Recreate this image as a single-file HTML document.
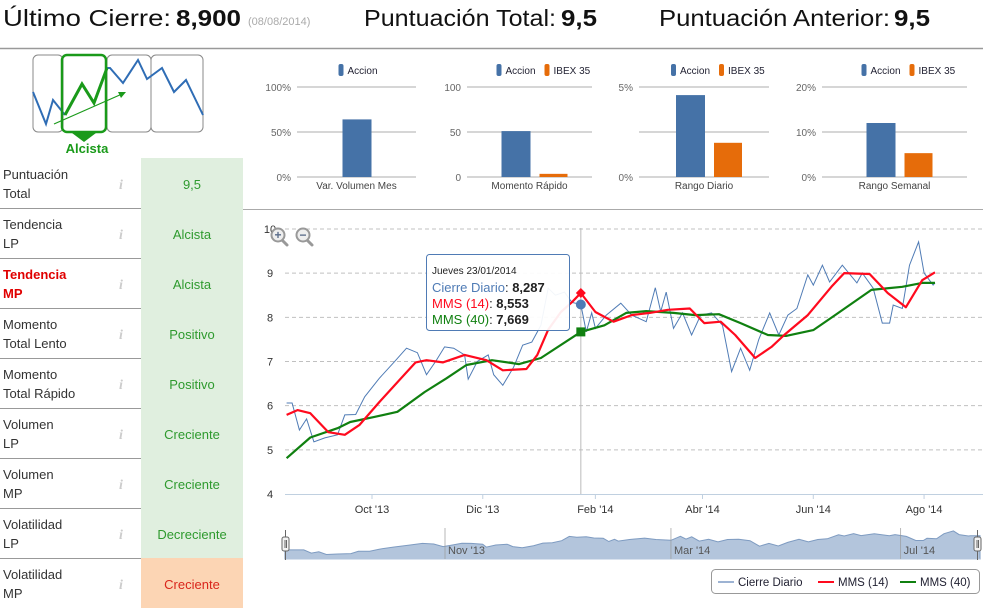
<!DOCTYPE html>
<html><head><meta charset="utf-8"><style>
html,body{margin:0;padding:0;background:#fff;}
svg{display:block;font-family:"Liberation Sans","DejaVu Sans",sans-serif;}
</style></head><body>
<svg id="s" width="983" height="608" viewBox="0 0 983 608" xmlns="http://www.w3.org/2000/svg">
<rect x="0" y="0" width="983" height="608" fill="#fff"/>
<g font-size="23" fill="#111">
<text x="3" y="26" textLength="168" lengthAdjust="spacingAndGlyphs">Último Cierre:</text>
<text x="176" y="26" font-weight="bold" textLength="65" lengthAdjust="spacingAndGlyphs">8,900</text>
<text x="248" y="25" font-size="11" fill="#aaa">(08/08/2014)</text>
<text x="364" y="26" textLength="192" lengthAdjust="spacingAndGlyphs">Puntuación Total:</text>
<text x="561" y="26" font-weight="bold" textLength="36" lengthAdjust="spacingAndGlyphs">9,5</text>
<text x="659" y="26" textLength="231" lengthAdjust="spacingAndGlyphs">Puntuación Anterior:</text>
<text x="894" y="26" font-weight="bold" textLength="36" lengthAdjust="spacingAndGlyphs">9,5</text>
</g>
<line x1="0" y1="48.5" x2="983" y2="48.5" stroke="#999" stroke-width="1.5"/>
<line x1="243" y1="209.5" x2="983" y2="209.5" stroke="#aaa" stroke-width="1"/>

<g>
<rect x="33" y="55" width="30" height="77" rx="5" fill="#fff" stroke="#888"/>
<rect x="107" y="55" width="44" height="77" rx="5" fill="#fff" stroke="#888"/>
<rect x="151" y="55" width="52" height="77" rx="5" fill="#fff" stroke="#888"/>
<polyline points="33,92 46,124 53,100 65,115" fill="none" stroke="#2f6db5" stroke-width="2"/>
<polyline points="107,68 110,68 123,83 138,60 147,79 162,68 174,92 186,80 203,115" fill="none" stroke="#2f6db5" stroke-width="2"/>
<rect x="62" y="55" width="44" height="77" rx="5" fill="none" stroke="#1a9a1a" stroke-width="2.5"/>
<polyline points="65,115 82,84 94,103 107,68" fill="none" stroke="#1a9a1a" stroke-width="3"/>
<path d="M72,133 L96,133 L84,142 Z" fill="#1a9a1a"/>
<line x1="54" y1="124" x2="122" y2="94" stroke="#1a9a1a" stroke-width="1.2"/>
<path d="M126,92 L118,92 L121,98 Z" fill="#1a9a1a"/>
<text x="87" y="153" text-anchor="middle" font-size="13" font-weight="bold" fill="#1a9a1a">Alcista</text>
</g>
<g id="table"></g>
<g id="mini"></g>
<g id="main"></g>
</svg>
<script>
const NS="http://www.w3.org/2000/svg";
function mk(p,t,a,txt){const e=document.createElementNS(NS,t);for(const k in a)e.setAttribute(k,a[k]);if(txt!==undefined)e.textContent=txt;p.appendChild(e);return e;}

// ---- table ----
const rowLabels1=["Puntuación","Tendencia","Tendencia","Momento","Momento","Volumen","Volumen","Volatilidad","Volatilidad"];
const rowLabels2=["Total","LP","MP","Total Lento","Total Rápido","LP","MP","LP","MP"];
const rowValues=["9,5","Alcista","Alcista","Positivo","Positivo","Creciente","Creciente","Decreciente","Creciente"];
const tb=document.getElementById('table');
rowLabels1.forEach((l,i)=>{
  const y=158+i*50;
  const last=i===8;
  const g=mk(tb,'g',{});
  
  
  mk(g,'rect',{x:141,y:y,width:102,height:50,fill:last?'#fcd5b4':'#e0efdf'});
  const red=i===2;
  const t1=mk(g,'text',{x:3,y:y+21,'font-size':13,fill:red?'#e00000':'#333','font-weight':red?'bold':'normal'},l);
  const t2=mk(g,'text',{x:3,y:y+40,'font-size':13,fill:red?'#e00000':'#333','font-weight':red?'bold':'normal'},rowLabels2[i]);
  const ic=mk(g,'text',{x:119,y:y+31,'font-size':14,'font-style':'italic','font-weight':'bold',fill:'#ccc','font-family':'Liberation Serif,serif'},'i');
  
  
  const v=mk(g,'text',{x:192,y:y+31,'font-size':13,'text-anchor':'middle',fill:last?'#d9261c':'#2e9a2e'},rowValues[i]);
  
  
  if(i<8) mk(g,'line',{x1:0,y1:y+50.5,x2:243,y2:y+50.5,stroke:'#999','stroke-width':1});
});

// ---- mini bar charts ----
const miniTitles=["Var. Volumen Mes","Momento Rápido","Rango Diario","Rango Semanal"];
const miniMax=[100,100,5,20];
const miniTicks=[["0%","50%","100%"],["0","50","100"],["0%","","5%"],["0%","10%","20%"]];
const miniAccion=[64,51,4.55,12];
const miniIbex=[null,3.5,1.9,5.3];
const miniGrid=[[297,416],[467,592],[639,769],[822,967]];
const mg=document.getElementById('mini');
miniTitles.forEach((t,i)=>{
  const g=mk(mg,'g',{});
  
  
  const [x0,x1]=miniGrid[i];
  const ys=v=>177-v/miniMax[i]*90;
  [0,0.5,1].forEach((f,k)=>{
    const y=177-f*90;
    mk(g,'line',{x1:x0,y1:y,x2:x1,y2:y,stroke:'#c8c8c8','stroke-width':1.5});
    if(miniTicks[i][k]) mk(g,'text',{x:x0-6,y:y+4,'font-size':10,'text-anchor':'end',fill:'#666'},miniTicks[i][k]);
  });
  const cx=(x0+x1)/2;
  const has2=miniIbex[i]!==null;
  const bx=has2?cx-28:cx-14;
  const b=mk(g,'rect',{x:bx,y:ys(miniAccion[i]),width:29,height:177-ys(miniAccion[i]),fill:'#4572a7'});
  
  
  if(has2){const o=mk(g,'rect',{x:cx+10,y:ys(miniIbex[i]),width:28,height:177-ys(miniIbex[i]),fill:'#e66c0a'});
    
    }
  mk(g,'text',{x:cx,y:189,'font-size':10,'text-anchor':'middle',fill:'#444'},t);
  const lx=has2?cx-33:cx-18;
  const lg=mk(g,'g',{});
  
  
  mk(lg,'rect',{x:lx,y:64,width:5,height:12,rx:2,fill:'#4572a7'});
  mk(lg,'text',{x:lx+9,y:74,'font-size':10,fill:'#223'},'Accion');
  if(has2){mk(lg,'rect',{x:lx+48,y:64,width:5,height:12,rx:2,fill:'#e66c0a'});
    mk(lg,'text',{x:lx+57,y:74,'font-size':10,fill:'#223'},'IBEX 35');}
});

// ---- main chart data (days from 1 Oct 2013) ----
const closeDays=[-47,-44,-40,-36,-32,-26,-19,-15,-9,-4,4,12,19,25,30,35,40,45,51,53,58,64,67,72,78,83,88,93,97,101,106,110,115,118,121,123,129,137,143,151,156,159,162,166,171,176,181,187,193,198,203,208,213,219,224,229,234,240,243,248,252,259,267,270,276,281,285,287,292,296,301,304,309,310];
const closeVals=[6.06,6.06,5.45,5.7,5.18,5.27,5.34,5.79,5.8,6.2,6.62,6.98,7.3,7.2,6.7,7.0,7.33,7.3,7.15,6.6,7.0,7.15,6.7,6.46,6.87,7.37,7.44,7.82,8.66,8.5,8.57,8.34,8.29,7.67,8.1,7.75,8.05,8.32,8.05,7.9,8.67,8.13,8.57,7.75,8.1,7.6,8.05,8.1,7.82,6.77,7.3,6.8,7.5,8.1,7.6,8.05,8.2,8.96,8.73,9.18,8.8,9.18,8.78,9.0,8.66,7.87,7.87,8.28,8.2,9.18,9.71,9.0,8.73,8.78];
const mms14Days=[-47,-41,-34,-24,-15,-7,4,14,24,30,39,51,63,72,85,91,97,104,110,115,123,133,143,153,163,175,183,192,200,211,220,227,240,253,260,274,284,294,303,310];
const mms14Vals=[5.79,5.9,5.83,5.4,5.34,5.56,6.08,6.53,6.98,7.03,6.98,7.15,7.03,6.8,6.83,7.15,7.72,8.12,8.34,8.55,8.12,7.9,8.05,8.1,8.17,8.2,7.87,7.9,7.6,7.08,7.33,7.6,8.05,8.69,9.0,8.98,8.55,8.23,8.84,9.02];
const mms40Days=[-47,-34,-19,-12,1,14,29,41,52,66,81,93,115,128,140,151,166,178,191,203,218,228,243,255,275,292,303,310];
const mms40Vals=[4.81,5.28,5.49,5.63,5.74,5.86,6.31,6.62,6.92,7.03,6.94,7.08,7.67,7.82,8.1,8.14,8.1,8.05,8.07,7.87,7.6,7.58,7.71,8.05,8.62,8.69,8.78,8.78];
const yTicks=[4,5,6,7,8,9,10];
const xTickDays=[0,61,123,182,243,304];
const xTickLabels=["Oct '13","Dic '13","Feb '14","Abr '14","Jun '14","Ago '14"];
const navTickDays=[31,151,273];
const navTickLabels=["Nov '13","Mar '14","Jul '14"];
const hoverDay=115;

const xS=d=>372+d*1.816;
const yS=v=>494-(v-4)*44.17;
const xN=d=>445+(d-31)*1.883;
const yN=v=>558-(v-4.5)*5.2;

const m=document.getElementById('main');
mk(m,'defs',{}).innerHTML='<clipPath id="pc"><rect x="285" y="215" width="698" height="280"/></clipPath>';
yTicks.forEach(t=>{
  const y=yS(t);
  if(t>4){const gl=mk(m,'line',{x1:285,y1:y,x2:983,y2:y,stroke:'#c0c0c0','stroke-dasharray':'4,3'});
    
    }
  const tl=mk(m,'text',{x:270,y:y+4,'font-size':11,fill:'#333','text-anchor':'middle'},String(t));
  
  
});
mk(m,'line',{x1:285,y1:494.5,x2:983,y2:494.5,stroke:'#c0d0e0','stroke-width':1});
xTickDays.forEach((d,i)=>{
  const x=xS(d);
  mk(m,'line',{x1:x,y1:494,x2:x,y2:499,stroke:'#c0d0e0'});
  const tl=mk(m,'text',{x:x,y:513,'font-size':11,fill:'#333','text-anchor':'middle'},xTickLabels[i]);
  
  
});
// crosshair
mk(m,'line',{x1:xS(hoverDay),y1:228,x2:xS(hoverDay),y2:494,stroke:'#bbb','stroke-width':1});
function pts(ds,vs,xf,yf){return ds.map((d,i)=>xf(d).toFixed(1)+','+yf(vs[i]).toFixed(1)).join(' ');}
const lc=mk(m,'polyline',{points:pts(closeDays,closeVals,xS,yS),fill:'none',stroke:'#4f7bb5','stroke-width':1,'clip-path':'url(#pc)'});


const l40=mk(m,'polyline',{points:pts(mms40Days,mms40Vals,xS,yS),fill:'none',stroke:'#108010','stroke-width':2.2,'stroke-linejoin':'round','clip-path':'url(#pc)'});


const l14=mk(m,'polyline',{points:pts(mms14Days,mms14Vals,xS,yS),fill:'none',stroke:'#ff0a1e','stroke-width':2.2,'stroke-linejoin':'round','clip-path':'url(#pc)'});


// markers
function valAt(ds,vs,d){for(let i=1;i<ds.length;i++){if(ds[i]>=d){const f=(d-ds[i-1])/(ds[i]-ds[i-1]);return vs[i-1]+f*(vs[i]-vs[i-1]);}}return vs[vs.length-1];}
const hx=xS(hoverDay);
const mc=mk(m,'circle',{cx:hx,cy:yS(valAt(closeDays,closeVals,hoverDay)),r:5,fill:'#4f7bb5'});


const my=yS(valAt(mms14Days,mms14Vals,hoverDay));
const mr=mk(m,'path',{d:`M${hx},${my-5} L${hx+5},${my} L${hx},${my+5} L${hx-5},${my} Z`,fill:'#ff0a1e'});


const gy=yS(valAt(mms40Days,mms40Vals,hoverDay));
const mgm=mk(m,'rect',{x:hx-4.5,y:gy-4.5,width:9,height:9,fill:'#108010'});


// tooltip
const tt=mk(m,'g',{});


mk(tt,'rect',{x:426.5,y:254.5,width:143,height:76,rx:3,fill:'rgba(255,255,255,0.93)',stroke:'#4f7bb5','stroke-width':1});
mk(tt,'text',{x:432,y:274,'font-size':10,fill:'#222'},'Jueves 23/01/2014');
const t1=mk(tt,'text',{x:432,y:292,'font-size':13});t1.innerHTML='<tspan fill="#4f7bb5">Cierre Diario</tspan><tspan fill="#222">: </tspan><tspan fill="#222" font-weight="bold">8,287</tspan>';
const t2=mk(tt,'text',{x:432,y:308,'font-size':13});t2.innerHTML='<tspan fill="#ff0a1e">MMS (14)</tspan><tspan fill="#222">: </tspan><tspan fill="#222" font-weight="bold">8,553</tspan>';
const t3=mk(tt,'text',{x:432,y:324,'font-size':13});t3.innerHTML='<tspan fill="#108010">MMS (40)</tspan><tspan fill="#222">: </tspan><tspan fill="#222" font-weight="bold">7,669</tspan>';
// zoom icons
[[278,'+','zoom-in-button'],[303,'−','zoom-out-button']].forEach(([x,s,n])=>{
  const g=mk(m,'g',{});
  
  
  mk(g,'line',{x1:x+4,y1:240,x2:x+9,y2:245,stroke:'#999','stroke-width':3,'stroke-linecap':'round'});
  mk(g,'circle',{cx:x,cy:235,r:6.5,fill:'#eee',stroke:'#999','stroke-width':2});
  mk(g,'text',{x:x,y:239,'font-size':12,'font-weight':'bold','text-anchor':'middle',fill:'#5a6c8a'},s);
});
// navigator
const nv=mk(m,'g',{});


const np=closeDays.map((d,i)=>[xN(d),yN(closeVals[i])]);
let dp=`M285,${np[0][1]} `+np.map(p=>`L${p[0].toFixed(1)},${p[1].toFixed(1)}`).join(' ')+` L980,${np[np.length-1][1]} L980,559 L285,559 Z`;
mk(nv,'path',{d:dp,fill:'#b3c5dc',stroke:'#7e9bc1','stroke-width':1});
mk(nv,'line',{x1:285,y1:559,x2:980,y2:559,stroke:'#b3c5dc'});
navTickDays.forEach((d,i)=>{
  const x=xN(d);
  mk(nv,'line',{x1:x,y1:528,x2:x,y2:559,stroke:'#999','stroke-width':0.7});
  mk(nv,'text',{x:x+3,y:554,'font-size':11,fill:'#555'},navTickLabels[i]);
});
[285,977].forEach(x=>{
  const h=mk(nv,'g',{});
  
  
  mk(h,'line',{x1:x+0.5,y1:530,x2:x+0.5,y2:560,stroke:'#666'});
  mk(h,'rect',{x:x-3,y:537,width:7,height:14,rx:2,fill:'#f2f2f2',stroke:'#666'});
  mk(h,'line',{x1:x,y1:540,x2:x,y2:548,stroke:'#666'});
  mk(h,'line',{x1:x+1.5,y1:540,x2:x+1.5,y2:548,stroke:'#666'});
});
// legend
const lg=mk(m,'g',{});


mk(lg,'rect',{x:711.5,y:569.5,width:268,height:24,rx:4,fill:'#fff',stroke:'#999'});
[[718,'#9db3d3','Cierre Diario','legend-cierre-diario'],[818,'#ff0a1e','MMS (14)','legend-mms-14'],[900,'#108010','MMS (40)','legend-mms-40']].forEach(([x,c,t,n])=>{
  const e=mk(lg,'g',{});
  
  
  mk(e,'line',{x1:x,y1:582,x2:x+16,y2:582,stroke:c,'stroke-width':2});
  mk(e,'text',{x:x+20,y:586,'font-size':11.5,fill:'#223'},t);
});
</script>
</body></html>
